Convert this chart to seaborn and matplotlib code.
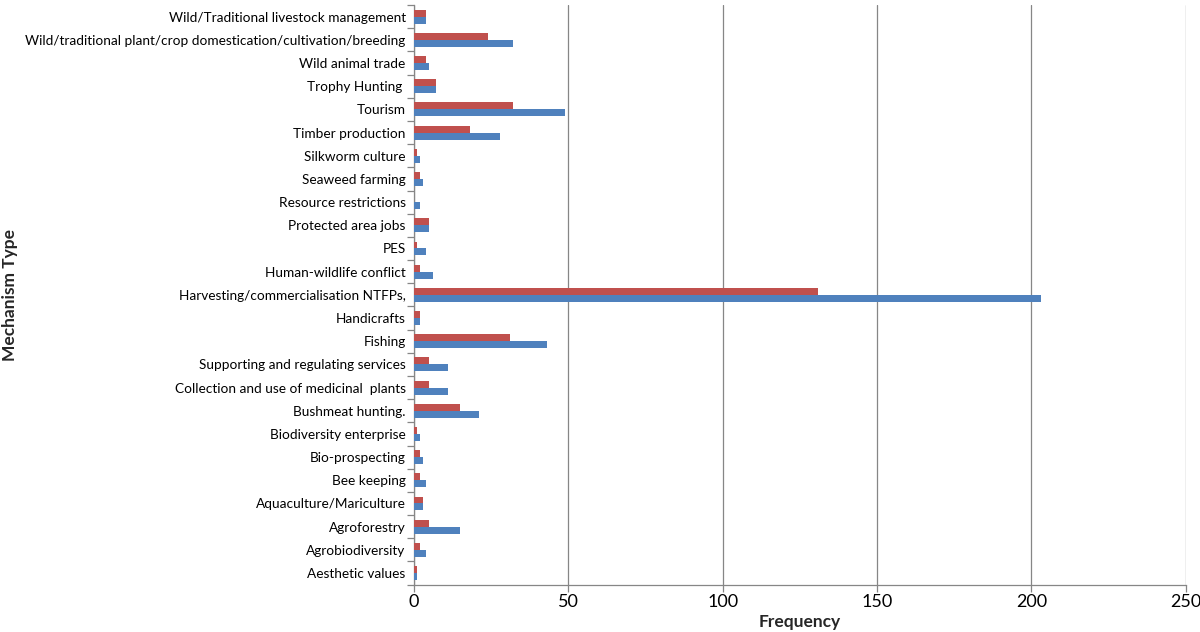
import numpy as np
import pandas as pd
import matplotlib
matplotlib.use("Agg")
import matplotlib.pyplot as plt
import seaborn as sns

# categories, top to bottom as shown in the chart
categories = [
    "Wild/Traditional livestock management",
    "Wild/traditional plant/crop domestication/cultivation/breeding",
    "Wild animal trade",
    "Trophy Hunting ",
    "Tourism",
    "Timber production",
    "Silkworm culture",
    "Seaweed farming",
    "Resource restrictions",
    "Protected area jobs",
    "PES",
    "Human-wildlife conflict",
    "Harvesting/commercialisation NTFPs,",
    "Handicrafts",
    "Fishing",
    "Supporting and regulating services",
    "Collection and use of medicinal  plants",
    "Bushmeat hunting.",
    "Biodiversity enterprise",
    "Bio-prospecting",
    "Bee keeping",
    "Aquaculture/Mariculture",
    "Agroforestry",
    "Agrobiodiversity",
    "Aesthetic values",
]

# red series (upper bar in each pair)
red_values = [4, 24, 4, 7, 32, 18, 1, 2, 0, 5, 1, 2, 131,
              2, 31, 5, 5, 15, 1, 2, 2, 3, 5, 2, 1]
# blue series (lower bar in each pair)
blue_values = [4, 32, 5, 7, 49, 28, 2, 3, 2, 5, 4, 6, 203,
               2, 43, 11, 11, 21, 2, 3, 4, 3, 15, 4, 1]

series_names = ["Series 2", "Series 1"]
series_colors = ["#C0504D", "#4F81BD"]

df = pd.DataFrame({
    "mechanism": categories * 2,
    "series": [series_names[0]] * len(categories) + [series_names[1]] * len(categories),
    "frequency": red_values + blue_values,
})

sns.set_theme(style="white")
plt.rcParams["font.family"] = ["Lato", "DejaVu Sans"]

fig, ax = plt.subplots(figsize=(12, 6.32), dpi=100)
fig.subplots_adjust(left=0.345, right=0.988, top=0.992, bottom=0.075)

sns.barplot(data=df, x="frequency", y="mechanism", hue="series",
            order=categories, hue_order=series_names,
            palette=series_colors, width=0.6, orient="h",
            saturation=1, linewidth=0, ax=ax, legend=False, zorder=3)

ax.set_xlim(0, 250)
ax.set_xticks(np.arange(0, 251, 50))
ax.set_ylim(len(categories) - 0.5, -0.5)
ax.xaxis.grid(True, color="#868686", linewidth=0.9, zorder=0)
ax.yaxis.grid(False)
ax.set_axisbelow(True)

for side in ["top", "right"]:
    ax.spines[side].set_visible(False)
for side in ["left", "bottom"]:
    ax.spines[side].set_color("#868686")
    ax.spines[side].set_linewidth(0.9)

# Excel-style tick marks between categories
ax.set_yticks(np.arange(-0.5, len(categories), 1), minor=True)
ax.tick_params(axis="y", which="major", length=0, labelsize=9.8, pad=6, colors="#000000")
ax.tick_params(axis="y", which="minor", length=5, color="#868686", width=0.9, left=True)
ax.tick_params(axis="x", which="major", length=5, color="#868686", width=0.9,
               bottom=True, labelsize=13, pad=2, labelcolor="#000000")

ax.set_xlabel("Frequency", fontsize=12.5, fontweight="bold")
ax.xaxis.set_label_coords(0.5, -0.05)
ax.set_ylabel("Mechanism Type", fontsize=12.5, fontweight="bold")
ax.yaxis.set_label_coords(-0.513, 0.5)

fig.savefig("out.png", dpi=100)
